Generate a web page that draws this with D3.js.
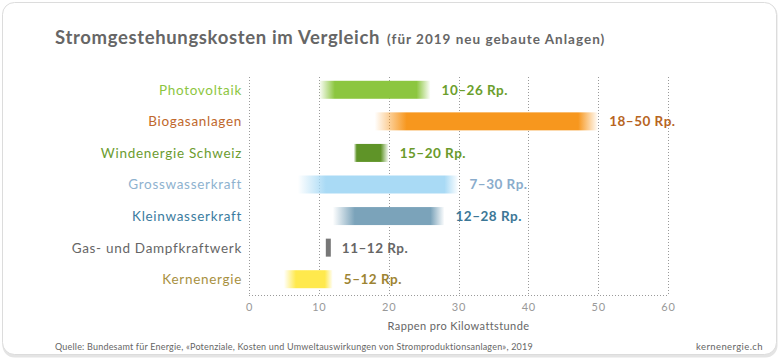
<!DOCTYPE html>
<html>
<head>
<meta charset="utf-8">
<script src="https://cdn.jsdelivr.net/npm/d3@7/dist/d3.min.js"></script>
<style>
  html, body { margin: 0; padding: 0; background: #ffffff; }
  svg { display: block; }
</style>
</head>
<body>
<svg id="chart" width="780" height="360"></svg>
<script>
// ---- data ----
const categories = ["Photovoltaik", "Biogasanlagen", "Windenergie Schweiz", "Grosswasserkraft",
                    "Kleinwasserkraft", "Gas- und Dampfkraftwerk", "Kernenergie"];
const minCost = [10, 18, 15, 7, 12, 11, 5];
const maxCost = [26, 50, 20, 30, 28, 12, 12];
const valueLabels = ["10–26 Rp.", "18–50 Rp.", "15–20 Rp.", "7–30 Rp.", "12–28 Rp.", "11–12 Rp.", "5–12 Rp."];
const xTicks = [0, 10, 20, 30, 40, 50, 60];
const titleText = "Stromgestehungskosten im Vergleich";
const subtitleText = "(für 2019 neu gebaute Anlagen)";
const axisTitle = "Rappen pro Kilowattstunde";
const sourceText = "Quelle: Bundesamt für Energie, «Potenziale, Kosten und Umweltauswirkungen von Stromproduktionsanlagen», 2019";
const creditText = "kernenergie.ch";

// ---- styles ----
const barColors   = ["#8cc63f", "#f7971e", "#5f9428", "#a9daf5", "#7ba3ba", "#777777", "#ffe94d"];
const labelColors = ["#8dc63f", "#c0682c", "#6c9c2f", "#8eb2cf", "#3b7ca0", "#666666", "#a8913f"];
const valueColors = ["#6b9e2c", "#b7651f", "#6a9a2a", "#8aaccc", "#3c7796", "#666666", "#9d8432"];
const fadeLeft  = [16, 32, 3, 28, 22, 0, 12];
const fadeRight = [14, 20, 8, 14, 14, 0, 8];
const barWidthMin = [0, 0, 0, 0, 0, 5, 0];

const svg = d3.select("#chart");
const defs = svg.append("defs");
const font = "Lato, 'Open Sans', sans-serif";

// card
svg.append("rect").attr("x", 2.5).attr("y", 3.5).attr("width", 775).attr("height", 354)
  .attr("rx", 12).attr("fill", "#e4e4e4");
svg.append("rect").attr("x", 2.5).attr("y", 2.5).attr("width", 774).attr("height", 352)
  .attr("rx", 12).attr("fill", "#ffffff").attr("stroke", "#dcdcdc").attr("stroke-width", 1);

const x = d3.scaleLinear().domain([0, 60]).range([249, 668]);
const y = d3.scaleBand().domain(categories).range([74, 295]).padding(0);
const barH = 18;

// grid
const g = svg.append("g");
g.selectAll("line.grid").data(xTicks).join("line")
  .attr("class", "grid")
  .attr("x1", d => Math.round(x(d)) + 0.5).attr("x2", d => Math.round(x(d)) + 0.5)
  .attr("y1", 77).attr("y2", 295)
  .attr("stroke", "#9a9a9a").attr("stroke-width", 1).attr("stroke-dasharray", "1,2");
g.append("line")
  .attr("x1", x(0)).attr("x2", x(60)).attr("y1", 295.5).attr("y2", 295.5)
  .attr("stroke", "#9a9a9a").attr("stroke-width", 1).attr("stroke-dasharray", "1,2");

// axis tick labels
const xAxis = d3.axisBottom(x).tickValues(xTicks).tickSize(0).tickPadding(0);
const ax = svg.append("g").attr("transform", "translate(0,303)").call(xAxis);
ax.select(".domain").remove();
ax.selectAll("text").attr("font-family", font).attr("font-size", 11).attr("fill", "#999")
  .attr("letter-spacing", "0.8px");

svg.append("text").attr("x", x(30)).attr("y", 330).attr("text-anchor", "middle")
  .attr("font-family", font).attr("font-size", 11).attr("fill", "#666")
  .attr("letter-spacing", "0.4px").text(axisTitle);

// gradients + bars
categories.forEach((c, i) => {
  const x0 = x(minCost[i]);
  const x1 = x(maxCost[i]);
  let w = x1 - x0;
  if (barWidthMin[i]) w = barWidthMin[i];
  const gr = defs.append("linearGradient").attr("id", "grad" + i)
    .attr("x1", "0").attr("x2", "1").attr("y1", "0").attr("y2", "0");
  const fl = fadeLeft[i] / w, fr = fadeRight[i] / w;
  gr.append("stop").attr("offset", 0).attr("stop-color", barColors[i]).attr("stop-opacity", fl > 0 ? 0 : 1);
  gr.append("stop").attr("offset", fl).attr("stop-color", barColors[i]).attr("stop-opacity", 1);
  gr.append("stop").attr("offset", 1 - fr).attr("stop-color", barColors[i]).attr("stop-opacity", 1);
  gr.append("stop").attr("offset", 1).attr("stop-color", barColors[i]).attr("stop-opacity", fr > 0 ? 0 : 1);
});

svg.append("g").selectAll("rect.bar").data(categories).join("rect")
  .attr("class", "bar")
  .attr("x", (d, i) => x(minCost[i]))
  .attr("y", d => y(d) + y.bandwidth() / 2 - barH / 2)
  .attr("width", (d, i) => barWidthMin[i] ? barWidthMin[i] : x(maxCost[i]) - x(minCost[i]))
  .attr("height", barH)
  .attr("fill", (d, i) => `url(#grad${i})`);

// category labels
svg.append("g").selectAll("text.cat").data(categories).join("text")
  .attr("class", "cat")
  .attr("x", 242).attr("y", d => y(d) + y.bandwidth() / 2)
  .attr("dy", "0.36em").attr("text-anchor", "end")
  .attr("font-family", font).attr("font-size", 13.5).attr("letter-spacing", "0.7px")
  .attr("fill", (d, i) => labelColors[i]).text(d => d);

// value labels
svg.append("g").selectAll("text.val").data(categories).join("text")
  .attr("class", "val")
  .attr("x", (d, i) => (barWidthMin[i] ? x(minCost[i]) + barWidthMin[i] : x(maxCost[i])) + 11)
  .attr("y", d => y(d) + y.bandwidth() / 2)
  .attr("dy", "0.36em")
  .attr("font-family", font).attr("font-weight", "bold").attr("font-size", 13.5)
  .attr("letter-spacing", "0.5px")
  .attr("fill", (d, i) => valueColors[i]).text((d, i) => valueLabels[i]);

// title
const t = svg.append("text").attr("x", 55).attr("y", 44)
  .attr("font-family", font).attr("fill", "#666").attr("font-weight", "bold");
t.append("tspan").attr("font-size", 18.5).attr("letter-spacing", "0.65px").text(titleText);
t.append("tspan").attr("font-size", 13.5).attr("dx", 7).attr("letter-spacing", "1px").text(subtitleText);

// footer
svg.append("text").attr("x", 55).attr("y", 350)
  .attr("font-family", font).attr("font-size", 9).attr("fill", "#666")
  .attr("letter-spacing", "0.2px").text(sourceText);
svg.append("text").attr("x", 763).attr("y", 350).attr("text-anchor", "end")
  .attr("font-family", font).attr("font-size", 9.5).attr("fill", "#666")
  .attr("letter-spacing", "0.4px").text(creditText);
</script>
</body>
</html>
